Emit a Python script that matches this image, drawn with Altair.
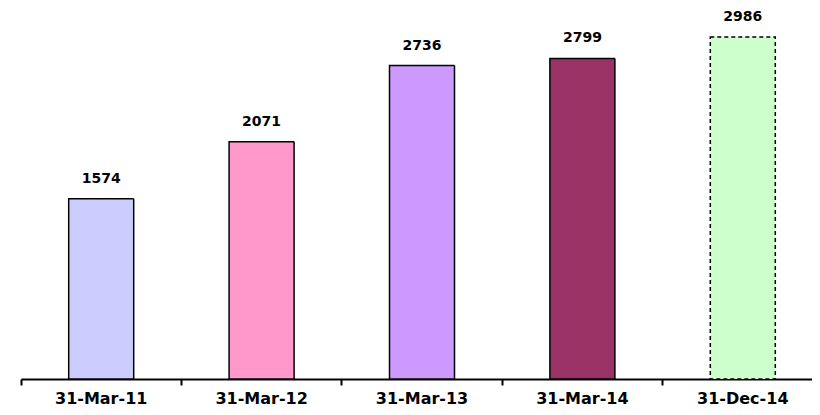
import altair as alt
import pandas as pd

categories = ["31-Mar-11", "31-Mar-12", "31-Mar-13", "31-Mar-14", "31-Dec-14"]
values = [1574, 2071, 2736, 2799, 2986]
colors = ["#CCCCFF", "#FF99CC", "#CC99FF", "#993366", "#CCFFCC"]

df = pd.DataFrame({"cat": categories, "val": values})

x = alt.X("cat:N", sort=categories, title=None,
          scale=alt.Scale(paddingInner=0, paddingOuter=0, range=[0, 802]),
          axis=alt.Axis(labelAngle=0, labelFont="DejaVu Sans", labelFontWeight="bold",
                        labelFontSize=16, labelColor="black", labelPadding=5,
                        domainColor="black", domainWidth=2, tickColor="black",
                        tickWidth=2, tickSize=6, bandPosition=0, grid=False))
y = alt.Y("val:Q", scale=alt.Scale(domain=[0, 3239], nice=False), axis=None)

bars = alt.Chart(df).mark_bar(size=65, stroke="black", strokeWidth=1.5).encode(
    x=x, y=y,
    color=alt.Color("cat:N", scale=alt.Scale(domain=categories, range=colors), legend=None),
    strokeDash=alt.condition(alt.datum.cat == "31-Dec-14", alt.value([4, 3]), alt.value([1, 0])),
)

labels = alt.Chart(df).mark_text(dy=-13, baseline="bottom", font="DejaVu Sans",
                                 fontWeight="bold", fontSize=14, color="black").encode(
    x=alt.X("cat:N", sort=categories), y=y, text="val:Q")

chart = alt.layer(bars, labels).properties(
    width=791, height=371,
    padding={"left": 13, "top": 0, "right": 0, "bottom": 28},
    autosize=alt.AutoSizeParams(type="none"),
).configure_view(stroke=None)

chart.save("out.html", embed_options={"renderer": "svg", "actions": False})
